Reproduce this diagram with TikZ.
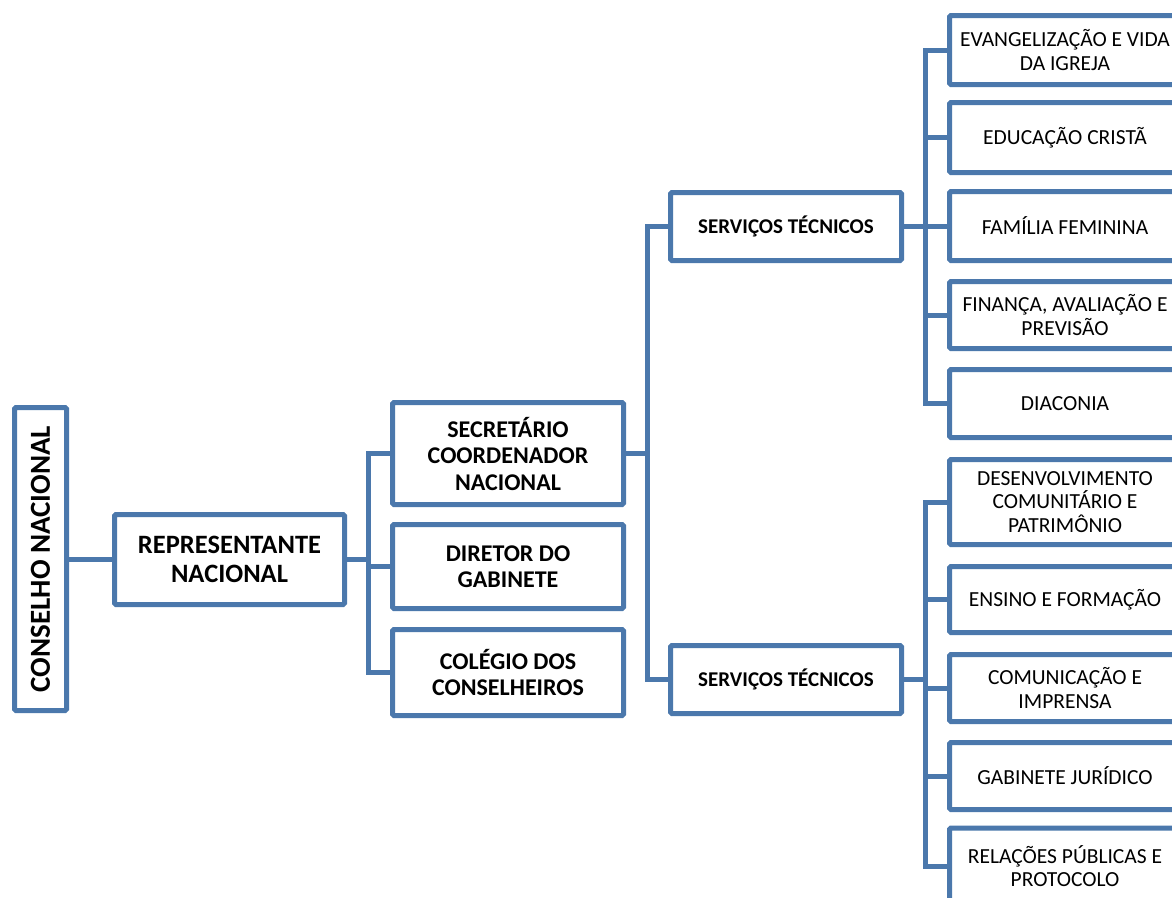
\documentclass[tikz,border=0pt]{standalone}
\usepackage{fontspec}
\setmainfont{Carlito}
\definecolor{bl}{RGB}{75,120,172}
\begin{document}
\begin{tikzpicture}[x=1pt,y=-1pt,
  box/.style={draw=bl, line width=5pt, rounded corners=1.5pt, fill=white, align=center, inner sep=0pt,
    minimum width=231pt, font=\fontsize{21.5}{23.5}\selectfont},
  midbox/.style={box, font=\fontsize{24}{26.5}\bfseries\selectfont},
  conn/.style={draw=bl, line width=5pt}]
\useasboundingbox (0,0) rectangle (1172,897);
\clip (0,0) rectangle (1172,897);
% main column
\node[box, minimum width=303pt, minimum height=52pt, rotate=90, font=\fontsize{29}{31}\bfseries\selectfont] (cons) at (40.5,559) {CONSELHO NACIONAL};
\node[box, minimum width=230pt, minimum height=90pt, font=\fontsize{26.5}{29}\bfseries\selectfont] (rep) at (229.5,559.5) {REPRESENTANTE\\NACIONAL};
\node[midbox, minimum height=102pt] (sec) at (508,453.5) {SECRETÁRIO\\COORDENADOR\\NACIONAL};
\node[midbox, minimum height=84pt] (dir) at (508,566.5) {DIRETOR DO\\GABINETE};
\node[midbox, minimum height=86pt] (col) at (508,672.5) {COLÉGIO DOS\\CONSELHEIROS};
\node[box, minimum height=68pt, font=\fontsize{21}{23.5}\bfseries\selectfont] (st1) at (786,226.5) {SERVIÇOS TÉCNICOS};
\node[box, minimum height=68pt, font=\fontsize{21}{23.5}\bfseries\selectfont] (st2) at (786,679.5) {SERVIÇOS TÉCNICOS};
% right column
\node[box, minimum height=69pt] (ev) at (1065,50) {EVANGELIZAÇÃO E VIDA\\DA IGREJA};
\node[box, minimum height=70pt] (ed) at (1065,137.5) {EDUCAÇÃO CRISTÃ};
\node[box, minimum height=69pt] (fam) at (1065,226) {FAMÍLIA FEMININA};
\node[box, minimum height=67pt] (fin) at (1065,315) {FINANÇA, AVALIAÇÃO E\\PREVISÃO};
\node[box, minimum height=68pt] (dia) at (1065,403.5) {DIACONIA};
\node[box, minimum height=85pt] (des) at (1065,502) {DESENVOLVIMENTO\\COMUNITÁRIO E\\PATRIMÔNIO};
\node[box, minimum height=66pt] (ens) at (1065,599.5) {ENSINO E FORMAÇÃO};
\node[box, minimum height=67pt] (com) at (1065,688) {COMUNICAÇÃO E\\IMPRENSA};
\node[box, minimum height=67pt] (gab) at (1065,776) {GABINETE JURÍDICO};
\node[box, minimum height=76pt] (rel) at (1065,866) {RELAÇÕES PÚBLICAS E\\PROTOCOLO};
% bus coordinates
\coordinate (b1) at (368,560);
\coordinate (b2) at (647,452);
\coordinate (b3) at (925,0);
% connectors
\draw[conn] (cons.south) -- (cons.south -| rep.west);
\draw[conn] (rep.east) -- (rep.east -| b1);
\draw[conn] (sec.west) -- (sec.west -| b1) -- (col.west -| b1) -- (col.west);
\draw[conn] (dir.west) -- (dir.west -| b1);
\draw[conn] (sec.east) -- (sec.east -| b2);
\draw[conn] (st1.west) -- (st1.west -| b2) -- (st2.west -| b2) -- (st2.west);
\draw[conn] (st1.east) -- (st1.east -| b3);
\draw[conn] (ev.west) -- (ev.west -| b3) -- (dia.west -| b3) -- (dia.west);
\foreach \n in {ed,fam,fin} \draw[conn] (\n.west) -- (\n.west -| b3);
\draw[conn] (st2.east) -- (st2.east -| b3);
\draw[conn] (des.west) -- (des.west -| b3) -- (rel.west -| b3) -- (rel.west);
\foreach \n in {ens,com,gab} \draw[conn] (\n.west) -- (\n.west -| b3);
\end{tikzpicture}
\end{document}
